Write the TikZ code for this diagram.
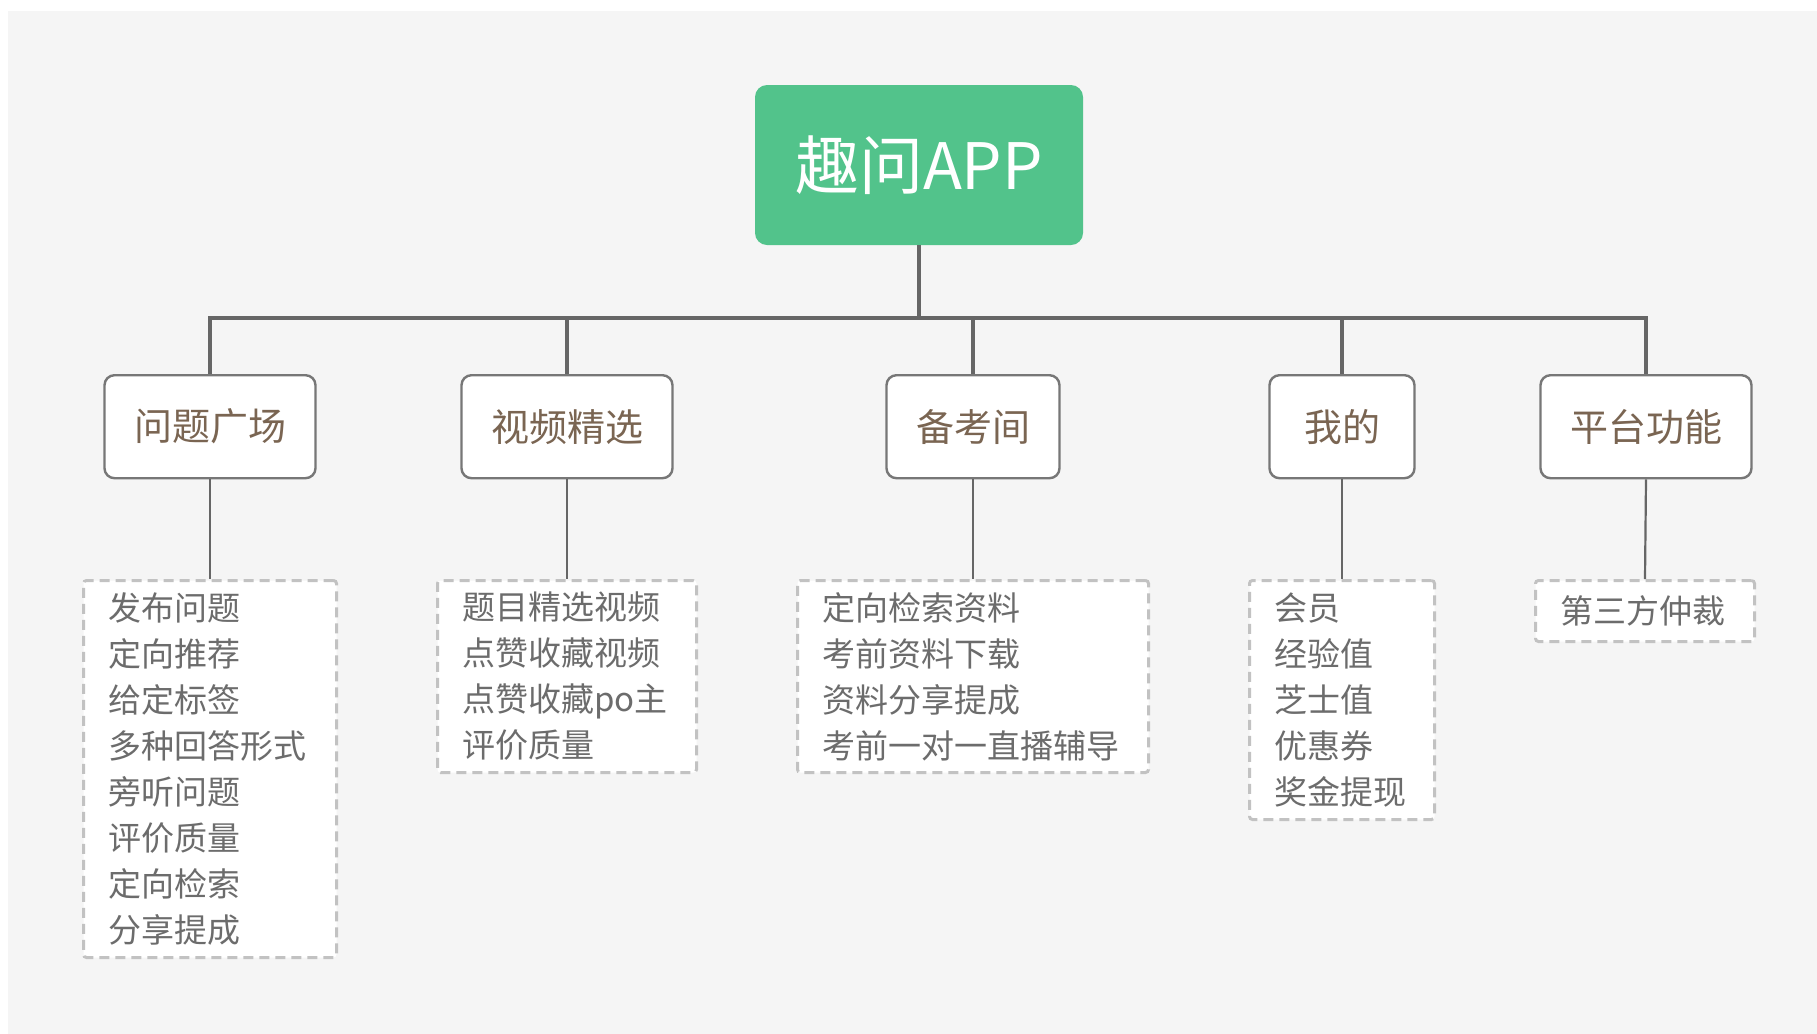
\documentclass[tikz,border=0pt]{standalone}
\usepackage{fontspec}
\setmainfont{Noto Sans CJK SC}
\definecolor{bgcol}{HTML}{F5F5F5}
\definecolor{rootgreen}{HTML}{52C38B}
\definecolor{lineg}{HTML}{666666}
\definecolor{boxline}{HTML}{777777}
\definecolor{cattext}{HTML}{7A6552}
\definecolor{listtext}{HTML}{6C6C6C}
\definecolor{dashcol}{HTML}{C2C2C2}
\tikzset{
  rootbox/.style={fill=rootgreen, draw=none, rounded corners=6pt, text=white,
    minimum width=164pt, minimum height=80pt, inner sep=0pt,
    font=\fontsize{32pt}{36pt}\selectfont},
  catbox/.style={fill=white, draw=boxline, line width=1.2pt, rounded corners=5pt,
    text=cattext, minimum height=51.5pt, inner sep=0pt, anchor=north,
    font=\fontsize{19pt}{22pt}\selectfont},
  listbox/.style={fill=white, draw=dashcol, line width=1.5pt, dash pattern=on 5pt off 3pt,
    rounded corners=1.5pt, text=listtext, anchor=north, align=left, inner xsep=12.5pt,
    inner ysep=0pt, font=\fontsize{16.5pt}{23pt}\selectfont},
  busline/.style={draw=lineg, line width=1.8pt},
  subline/.style={draw=lineg, line width=1.1pt}
}
\begin{document}
\begin{tikzpicture}[x=0.5pt,y=-0.5pt]
\useasboundingbox (0,0) rectangle (1817,1034);
\fill[white] (0,0) rectangle (1817,1034);
\fill[bgcol] (8,11) rectangle (1817,1034);

\node[rootbox] (root) at (919,165) {趣问APP};

\coordinate (bus) at (0,318);

\node[catbox, minimum width=105.5pt] (c1) at (210,374) {问题广场};
\node[catbox, minimum width=105.5pt] (c2) at (567,374) {视频精选};
\node[catbox, minimum width=86.5pt] (c3) at (973,374) {备考间};
\node[catbox, minimum width=72.5pt] (c4) at (1342,374) {我的};
\node[catbox, minimum width=105.5pt] (c5) at (1646,374) {平台功能};

\foreach \c in {c1,c2,c3,c4,c5}{
  \draw[busline] (root.south) -- (root.south |- bus) -| (\c.north);
}

\node[listbox, text width=101.5pt, minimum height=188.5pt] (l1) at (210,579)
  {发布问题\\定向推荐\\给定标签\\多种回答形式\\旁听问题\\评价质量\\定向检索\\分享提成};
\node[listbox, text width=104.5pt, minimum height=96pt] (l2) at (567,579)
  {题目精选视频\\点赞收藏视频\\点赞收藏po主\\评价质量};
\node[listbox, text width=150.5pt, minimum height=96pt] (l3) at (973,579)
  {定向检索资料\\考前资料下载\\资料分享提成\\考前一对一直播辅导};
\node[listbox, text width=67.5pt, minimum height=119.5pt] (l4) at (1342,579)
  {会员\\经验值\\芝士值\\优惠券\\奖金提现};
\node[listbox, text width=84.5pt, minimum height=30.5pt] (l5) at (1645,579)
  {第三方仲裁};

\draw[subline] (c1.south) -- (l1.north);
\draw[subline] (c2.south) -- (l2.north);
\draw[subline] (c3.south) -- (l3.north);
\draw[subline] (c4.south) -- (l4.north);
\draw[subline] (c5.south) -- (l5.north);
\end{tikzpicture}
\end{document}
